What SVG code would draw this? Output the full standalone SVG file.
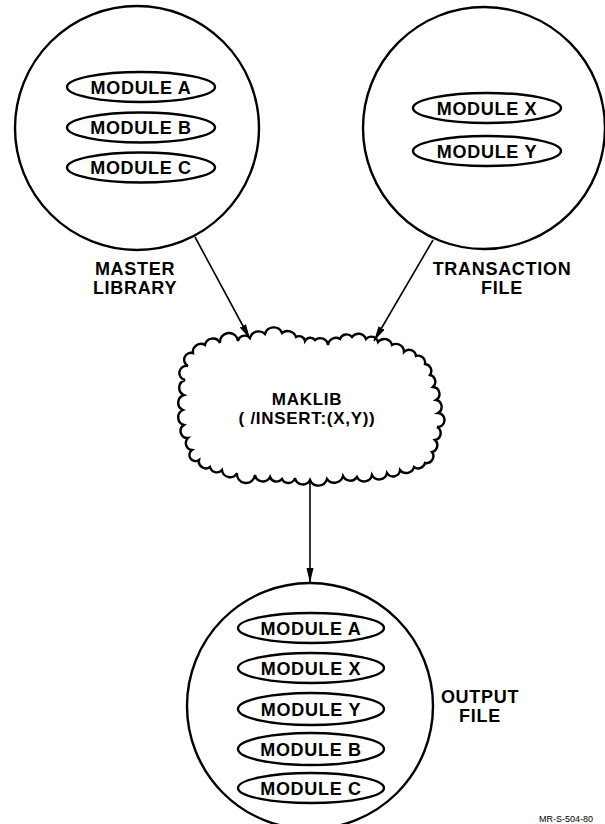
<svg xmlns="http://www.w3.org/2000/svg" width="605" height="824" viewBox="0 0 605 824">
<defs>
<style>
.c{fill:none;stroke:#000;stroke-width:2.4}
.e{fill:#fff;stroke:#000;stroke-width:2.4}
.t{font-family:"Liberation Sans",Arial,sans-serif;font-weight:bold;font-size:18px;letter-spacing:0.7px;fill:#000;text-anchor:middle}
.m{font-size:17px}
.f{font-family:"Liberation Sans",Arial,sans-serif;font-size:9px;fill:#000}
.ln{fill:none;stroke:#000;stroke-width:1.6}
</style>
<marker id="ah" markerUnits="userSpaceOnUse" markerWidth="16" markerHeight="10" viewBox="0 0 16 10" refX="15" refY="5" orient="auto">
<path d="M0,1.5 L15,5 L0,8.5 Z" fill="#000"/>
</marker>
</defs>
<rect width="605" height="824" fill="#fff"/>

<g id="master-library">
<circle class="c" cx="137" cy="128" r="122"/>
<ellipse class="e" cx="141" cy="87" rx="74" ry="15"/>
<text class="t" x="141" y="93.5">MODULE A</text>
<ellipse class="e" cx="141" cy="127.5" rx="74" ry="15"/>
<text class="t" x="141" y="134">MODULE B</text>
<ellipse class="e" cx="141" cy="167.5" rx="74" ry="15"/>
<text class="t" x="141" y="174">MODULE C</text>
<text class="t" x="135" y="274.5">MASTER</text>
<text class="t" x="135" y="293.5">LIBRARY</text>
</g>

<g id="transaction-file">
<circle class="c" cx="484" cy="128" r="121"/>
<ellipse class="e" cx="487" cy="108" rx="74" ry="15"/>
<text class="t" x="487" y="114.5">MODULE X</text>
<ellipse class="e" cx="487" cy="151" rx="74" ry="15"/>
<text class="t" x="487" y="157.5">MODULE Y</text>
<text class="t" x="502" y="274.5">TRANSACTION</text>
<text class="t" x="502" y="293.5">FILE</text>
</g>

<g id="maklib">
<path class="c" d="M193,353 A8,8 0 0 1 205,345 A8,8 0 0 1 220,343 A8,8 0 0 1 238,341 A7,7 0 0 1 250,338 A9,9 0 0 1 265,334 A9,9 0 0 1 282,333 A9,9 0 0 1 296,337 A6,6 0 0 1 305,341 A6,6 0 0 1 315,340 A8,8 0 0 1 328,345 A8,8 0 0 1 340,339 A7,7 0 0 1 352,337 A8,8 0 0 1 366,339 A7,7 0 0 1 378,342 A8,8 0 0 1 392,345 A8,8 0 0 1 404,352 A7,7 0 0 1 416,356 A7,7 0 0 1 425,364 A7,7 0 0 1 430,375 A7,7 0 0 1 433,387 A7,7 0 0 1 436,400 A7,7 0 0 1 438,413 A7,7 0 0 1 437,427 A7,7 0 0 1 435,440 A7,7 0 0 1 432,452 A7,7 0 0 1 425,463 A7,7 0 0 1 414,467 A8,8 0 0 1 400,470 A7,7 0 0 1 387,473 A8,8 0 0 1 372,475 A8,8 0 0 1 357,477 A8,8 0 0 1 343,476 A9,9 0 0 1 327,479 A9,9 0 0 1 310,480 A8,8 0 0 1 295,478 A7,7 0 0 1 282,479 A7,7 0 0 1 270,477 A8,8 0 0 1 255,475 A9,9 0 0 1 237,473 A8,8 0 0 1 222,470 A7,7 0 0 1 210,467 A7,7 0 0 1 199,460 A6,6 0 0 1 192,450 A7,7 0 0 1 188,438 A7,7 0 0 1 184,425 A8,8 0 0 1 183,410 A8,8 0 0 1 184,395 A8,8 0 0 1 185,380 A7,7 0 0 1 188,366 A7,7 0 0 1 193,353 Z"/>
<text class="t m" x="307" y="404.5">MAKLIB</text>
<text class="t m" x="307" y="423.5">( /INSERT:(X,Y))</text>
</g>

<g id="output-file">
<circle class="c" cx="310" cy="706" r="123"/>
<ellipse class="e" cx="311" cy="628" rx="73" ry="15"/>
<text class="t" x="311" y="634.5">MODULE A</text>
<ellipse class="e" cx="311" cy="668" rx="73" ry="15"/>
<text class="t" x="311" y="674.5">MODULE X</text>
<ellipse class="e" cx="311" cy="709" rx="73" ry="16"/>
<text class="t" x="311" y="715.5">MODULE Y</text>
<ellipse class="e" cx="311" cy="749" rx="73" ry="16"/>
<text class="t" x="311" y="755.5">MODULE B</text>
<ellipse class="e" cx="311" cy="788" rx="73" ry="15"/>
<text class="t" x="311" y="794.5">MODULE C</text>
<text class="t" x="480" y="702.5">OUTPUT</text>
<text class="t" x="480" y="721.5">FILE</text>
</g>

<g id="connectors">
<line class="ln" x1="195" y1="237" x2="250" y2="339" marker-end="url(#ah)"/>
<line class="ln" x1="433" y1="240" x2="374" y2="341" marker-end="url(#ah)"/>
<line class="ln" x1="310" y1="480" x2="310" y2="583" marker-end="url(#ah)"/>
</g>

<text class="f" x="539" y="822">MR-S-504-80</text>
</svg>
